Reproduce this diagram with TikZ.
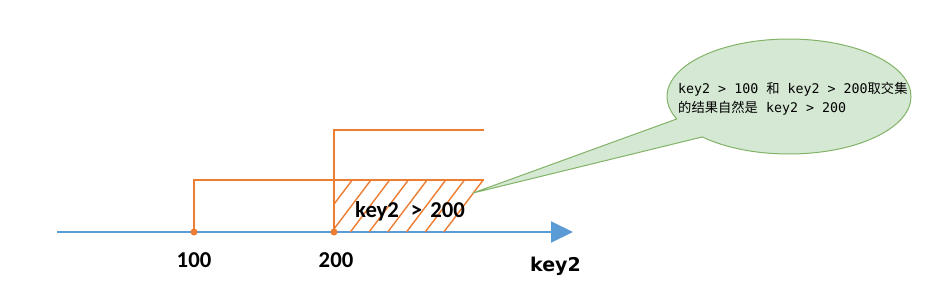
\documentclass[tikz,border=0pt]{standalone}
\usepackage{fontspec}
\usetikzlibrary{arrows.meta,calc}
\newfontfamily\carlitofont{Carlito}
\newfontfamily\dejafont{DejaVu Sans}
\newfontfamily\cjkfont{Noto Sans CJK SC}
\newfontfamily\latmono{DejaVu Sans Mono}
\definecolor{orng}{HTML}{ED7D31}
\definecolor{axblue}{HTML}{5B9BD5}
\definecolor{bubfill}{HTML}{D5E8D4}
\definecolor{bubline}{HTML}{82B366}
\tikzset{
  axisline/.style={axblue, line width=2pt, -{Triangle[length=22pt,width=21pt]}},
  rangeline/.style={orng, line width=2pt},
  hatchline/.style={orng, line width=1.4pt},
  dotnode/.style={circle, fill=orng, inner sep=0pt, minimum size=7pt},
  ticklabel/.style={font=\carlitofont\bfseries\fontsize{22.7}{26}\selectfont, anchor=base, inner sep=0pt},
  axislabel/.style={font=\dejafont\bfseries\fontsize{19}{22}\selectfont, anchor=base, inner sep=0pt},
  bubble/.style={fill=bubfill, draw=bubline, line width=1pt, line join=round},
  bubbletext/.style={font=\fontsize{13.3}{19}\selectfont, align=left, anchor=west, inner sep=0pt}
}
\begin{document}
\begin{tikzpicture}[x=1pt,y=1pt]
  \useasboundingbox (0,0) rectangle (937,306);
  \fill[white] (0,0) rectangle (937,306);
  % axis
  \coordinate (axstart) at (57,74);
  \coordinate (axend) at (573,74);
  \draw[axisline] (axstart) -- (axend);
  % range lines
  \coordinate (c100) at (194,74);
  \coordinate (c200) at (334,74);
  \coordinate (r100) at (484,126);
  \coordinate (r200) at (484,176);
  \draw[rangeline] (c100) |- (r100);
  \draw[rangeline] (c200) |- (r200);
  % hatch
  \begin{scope}
    \clip (334,74) rectangle (484,126);
    \foreach \k in {0,...,7}
      \draw[hatchline] ({353+18.7*\k},127) -- ({313+18.7*\k},74);
  \end{scope}
  % dots
  \node[dotnode] (p100) at (c100) {};
  \node[dotnode] (p200) at (c200) {};
  % labels
  \node[ticklabel] (l100) at (194,38.7) {100};
  \node[ticklabel] (l200) at (336,38.7) {200};
  \node[ticklabel] (lrange) at (410,88.3) {key2\hspace{12pt}>\hspace{8pt}200};
  \node[axislabel] (lkey) at (555.5,34.3) {key2};
  % bubble
  \coordinate (bubc) at (789,209.5);
  \coordinate (tip) at (473,113);
  \draw[bubble] ($(bubc)+(224.7:122pt and 57.5pt)$)
     arc[start angle=224.7, end angle=563, x radius=122pt, y radius=57.5pt]
     -- (tip) -- cycle;
  \node[bubbletext] (btext) at (678,207.5)
    {{\latmono key2 > 100 }{\cjkfont 和}{\latmono\ key2 > 200}{\cjkfont 取交集}\\
     {\cjkfont 的结果自然是}{\latmono\ key2 > 200}};
\end{tikzpicture}
\end{document}
